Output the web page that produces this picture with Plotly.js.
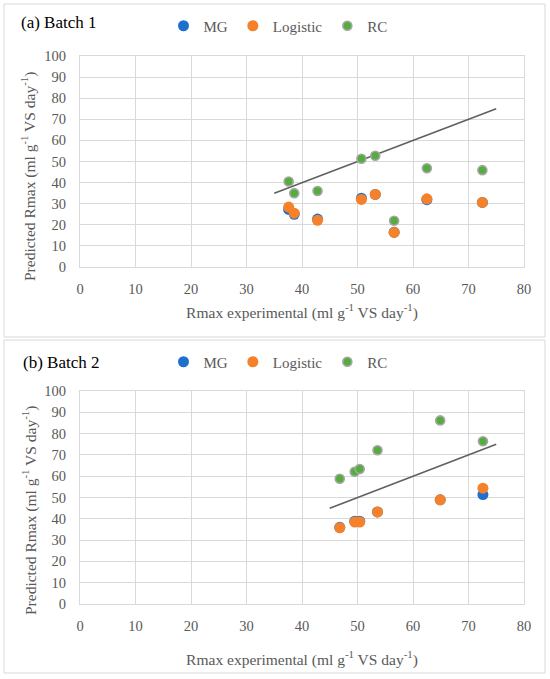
<!DOCTYPE html>
<html>
<head>
<meta charset="utf-8">
<script src="https://cdn.plot.ly/plotly-3.0.1.min.js"></script>
<style>html,body{margin:0;padding:0;background:#fff;}#chart{width:550px;height:679px;}</style>
</head>
<body>
<div id="chart"></div>
<script>
// ---- data ----
var seriesNames = ["MG", "Logistic", "RC"];
var panelTitles = ["(a) Batch 1", "(b) Batch 2"];

var b1X   = [37.6, 38.6, 42.8, 50.7, 53.2, 56.6, 62.5, 72.5];
var b1MG  = [27.3, 25.0, 22.7, 32.6, 34.4, 16.5, 31.9, 30.6];
var b1Log = [28.4, 25.5, 22.1, 32.0, 34.4, 16.4, 32.3, 30.6];
var b1RC  = [40.5, 35.0, 36.0, 51.3, 52.7, 21.9, 46.8, 45.9];
var b1LineX = [35, 75];
var b1LineY = [35, 75];

var b2X   = [46.8, 49.5, 50.4, 53.6, 64.9, 72.6];
var b2MG  = [36.0, 38.9, 38.9, 43.2, 48.9, 51.4];
var b2Log = [35.8, 38.5, 38.5, 43.2, 48.9, 54.4];
var b2RC  = [58.8, 62.1, 63.4, 72.2, 86.2, 76.4];
var b2LineX = [45, 75];
var b2LineY = [45, 75];

var xTickVals = [0, 10, 20, 30, 40, 50, 60, 70, 80];
var yTickVals = [0, 10, 20, 30, 40, 50, 60, 70, 80, 90, 100];

// ---- styling ----
var FONT = 'Liberation Serif, DejaVu Serif, serif';
var GRID = '#d9d9d9';
var TXT = '#595959';
var colMG = '#1f6fcf', colLog = '#f5822a', colRC = '#55ad3d';

function pts(x, y, name, color, xa, ya, leg, isRC) {
  return {
    type: 'scatter', mode: 'markers', x: x, y: y, name: name,
    xaxis: xa, yaxis: ya, legend: leg,
    marker: isRC ? {size: 9, color: color, line: {color: '#a6a6a6', width: 1.6}}
                 : {size: 11, color: color, line: {width: 0}},
    hoverinfo: 'x+y'
  };
}
function line(x, y, xa, ya) {
  return {type: 'scatter', mode: 'lines', x: x, y: y, xaxis: xa, yaxis: ya,
          showlegend: false, line: {color: '#606060', width: 1.6}, hoverinfo: 'skip'};
}

var traces = [
  line(b1LineX, b1LineY, 'x', 'y'),
  pts(b1X, b1MG,  seriesNames[0], colMG,  'x', 'y', 'legend', false),
  pts(b1X, b1Log, seriesNames[1], colLog, 'x', 'y', 'legend', false),
  pts(b1X, b1RC,  seriesNames[2], colRC,  'x', 'y', 'legend', true),
  line(b2LineX, b2LineY, 'x2', 'y2'),
  pts(b2X, b2MG,  seriesNames[0], colMG,  'x2', 'y2', 'legend2', false),
  pts(b2X, b2Log, seriesNames[1], colLog, 'x2', 'y2', 'legend2', false),
  pts(b2X, b2RC,  seriesNames[2], colRC,  'x2', 'y2', 'legend2', true)
];

var W = 550, H = 679;
function px(v) { return v / W; }
function py(v) { return 1 - v / H; }

var xTitle = 'Rmax experimental (ml g<sup>-1</sup> VS day<sup>-1</sup>)';
var yTitle = 'Predicted Rmax (ml g<sup>-1</sup> VS day<sup>-1</sup>)';

function xAxis(domain, anchor, standoff) {
  return {
    domain: domain, anchor: anchor, range: [0, 80], tickvals: xTickVals,
    showgrid: true, gridcolor: GRID, gridwidth: 1,
    zeroline: false, showline: true, linecolor: GRID, linewidth: 1, mirror: true,
    ticks: 'outside', ticklen: 9, tickcolor: 'rgba(0,0,0,0)',
    tickfont: {family: FONT, size: 14.5, color: TXT},
    title: {text: xTitle, font: {family: FONT, size: 15.5, color: TXT}, standoff: standoff},
    automargin: false, fixedrange: true
  };
}
function yAxis(domain, anchor) {
  return {
    domain: domain, anchor: anchor, range: [0, 100], tickvals: yTickVals,
    showgrid: true, gridcolor: GRID, gridwidth: 1,
    zeroline: false, showline: true, linecolor: GRID, linewidth: 1, mirror: true,
    ticks: 'outside', ticklen: 10, tickcolor: 'rgba(0,0,0,0)',
    tickfont: {family: FONT, size: 14.5, color: TXT},
    automargin: false, fixedrange: true
  };
}

var legendBase = {
  orientation: 'h', xanchor: 'center', yanchor: 'middle',
  font: {family: FONT, size: 15, color: TXT}, bgcolor: 'rgba(0,0,0,0)',
  itemwidth: 30, tracegroupgap: 0
};

function yTitleAnn(yc) {
  return {text: yTitle, xref: 'paper', yref: 'paper', x: px(29), y: py(yc),
          xanchor: 'center', yanchor: 'middle', textangle: -90, showarrow: false,
          font: {family: FONT, size: 15.5, color: TXT}};
}

var layout = {
  width: W, height: H,
  margin: {l: 0, r: 0, t: 0, b: 0},
  paper_bgcolor: '#ffffff', plot_bgcolor: '#ffffff',
  font: {family: FONT, color: TXT},
  showlegend: true,
  xaxis: xAxis([px(80), px(524)], 'y', 10),
  yaxis: yAxis([py(267), py(56)], 'x'),
  xaxis2: xAxis([px(80), px(524)], 'y2', 20),
  yaxis2: yAxis([py(604), py(391)], 'x2'),
  legend: Object.assign({}, legendBase, {x: px(278), y: py(26)}),
  legend2: Object.assign({}, legendBase, {x: px(278), y: py(362)}),
  shapes: [
    {type: 'rect', xref: 'paper', yref: 'paper', x0: px(4), x1: px(545), y0: py(337), y1: py(4),
     line: {color: GRID, width: 1}, fillcolor: 'rgba(0,0,0,0)', layer: 'below'},
    {type: 'rect', xref: 'paper', yref: 'paper', x0: px(4), x1: px(545), y0: py(673), y1: py(340),
     line: {color: GRID, width: 1}, fillcolor: 'rgba(0,0,0,0)', layer: 'below'}
  ],
  annotations: [
    {text: panelTitles[0], xref: 'paper', yref: 'paper', x: px(19), y: py(23),
     xanchor: 'left', yanchor: 'middle', showarrow: false,
     font: {family: FONT, size: 17, color: '#000000'}},
    {text: panelTitles[1], xref: 'paper', yref: 'paper', x: px(21), y: py(362),
     xanchor: 'left', yanchor: 'middle', showarrow: false,
     font: {family: FONT, size: 17, color: '#000000'}},
    yTitleAnn(177),
    yTitleAnn(511)
  ]
};

Plotly.newPlot('chart', traces, layout, {displayModeBar: false, staticPlot: true});
</script>
</body>
</html>
